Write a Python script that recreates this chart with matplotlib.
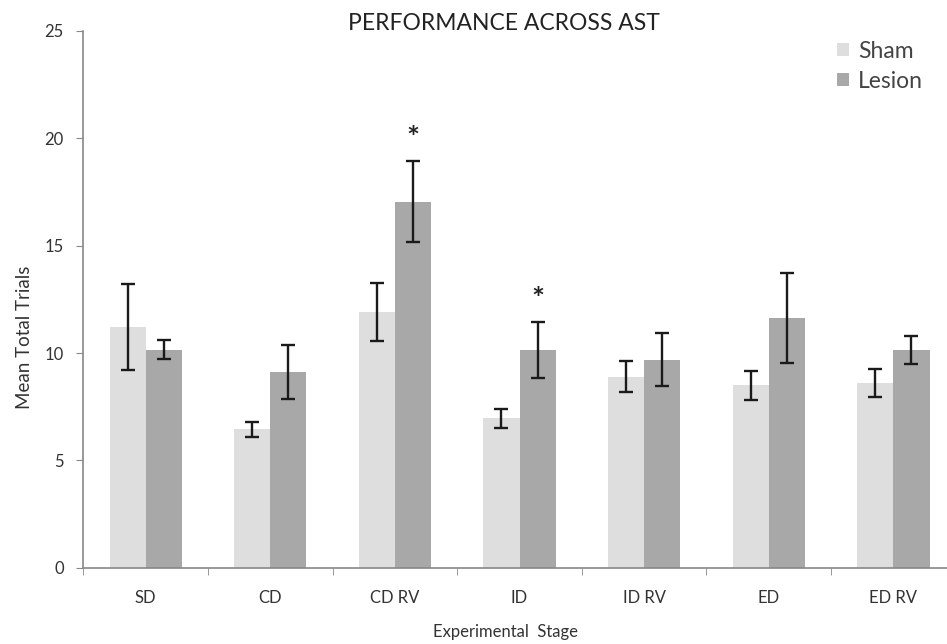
import matplotlib.pyplot as plt
import numpy as np

plt.rcParams['font.family'] = ['Lato', 'DejaVu Sans']

# values
stages = ['SD', 'CD', 'CD RV', 'ID', 'ID RV', 'ED', 'ED RV']
sham = [11.2, 6.45, 11.9, 6.95, 8.9, 8.5, 8.6]
sham_err = [2.0, 0.35, 1.35, 0.45, 0.72, 0.68, 0.64]
lesion = [10.15, 9.1, 17.05, 10.15, 9.68, 11.62, 10.14]
lesion_err = [0.45, 1.26, 1.9, 1.3, 1.23, 2.1, 0.64]
signif = [False, False, True, True, False, False, False]

fig = plt.figure(figsize=(9.47, 6.44), dpi=100)
ax = fig.add_axes([0.088, 0.1185, 0.912, 0.8334])

x = np.arange(len(stages))
w = 0.29
ax.bar(x - w / 2, sham, w, color='#dedede', label='Sham')
ax.bar(x + w / 2, lesion, w, color='#a8a8a8', label='Lesion')
ax.errorbar(x - w / 2, sham, yerr=sham_err, fmt='none', ecolor='#1a1a1a',
            elinewidth=1.7, capsize=5, capthick=1.7)
ax.errorbar(x + w / 2, lesion, yerr=lesion_err, fmt='none', ecolor='#1a1a1a',
            elinewidth=1.7, capsize=5, capthick=1.7)

for i, s in enumerate(signif):
    if s:
        ax.text(x[i] + w / 2, lesion[i] + lesion_err[i] + 1.0, '*',
                ha='center', va='center', fontsize=22, fontweight='bold',
                color='#222222')

ax.set_xlim(-0.5, 6.43)
ax.set_ylim(0, 25)
ax.set_yticks([0, 5, 10, 15, 20, 25])
ax.set_xticks(x)
ax.set_xticklabels(stages)
ax.set_xticks(np.arange(-0.5, 6.5, 1), minor=True)
ax.tick_params(axis='x', which='major', length=0, pad=16, labelsize=12, labelcolor='#333333')
ax.tick_params(axis='x', which='minor', length=5, color='#888888', direction='out')
ax.tick_params(axis='y', length=5, color='#888888', labelsize=12, labelcolor='#333333', pad=9)

for side in ['top', 'right']:
    ax.spines[side].set_visible(False)
for side in ['left', 'bottom']:
    ax.spines[side].set_color('#888888')
    ax.spines[side].set_linewidth(1.2)

ax.set_ylabel('Mean Total Trials', fontsize=13.5, color='#333333')
ax.yaxis.set_label_coords(-0.058, 0.43)
ax.set_xlabel('Experimental  Stage', fontsize=12, color='#333333')
ax.xaxis.set_label_coords(0.489, -0.105)
fig.text(0.532, 0.963, 'PERFORMANCE ACROSS AST', ha='center', va='center',
         fontsize=16.5, color='#222222')

leg = ax.legend(loc='upper right', bbox_to_anchor=(0.996, 1.02), frameon=False,
                fontsize=16.5, handlelength=0.5, handleheight=0.5, handletextpad=0.4,
                labelspacing=0.4, labelcolor='#444444')

fig.savefig('out.png', dpi=100)
